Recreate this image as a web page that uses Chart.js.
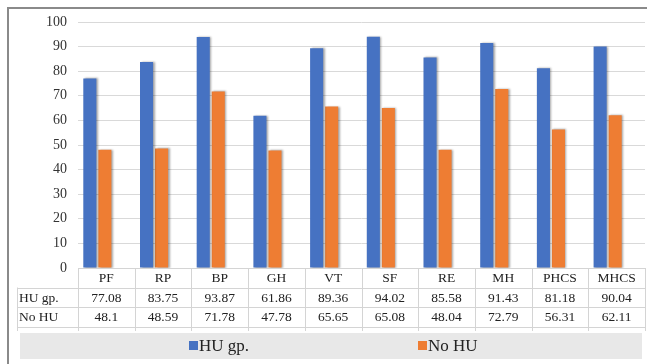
<!DOCTYPE html>
<html>
<head>
<meta charset="utf-8">
<script src="https://cdn.jsdelivr.net/npm/chart.js@4"></script>
<style>
  html, body { margin: 0; padding: 0; background: #fff; }
  #contenedor { width: 647px; height: 364px; }
</style>
</head>
<body>
<div id="contenedor"><canvas id="grafica"></canvas></div>
<script>
// Datos de la gráfica
const categorias = ["PF", "RP", "BP", "GH", "VT", "SF", "RE", "MH", "PHCS", "MHCS"];
const etiquetasSeries = ["HU gp.", "No HU"];
const valoresHU = [77.08, 83.75, 93.87, 61.86, 89.36, 94.02, 85.58, 91.43, 81.18, 90.04];
const valoresNoHU = [48.1, 48.59, 71.78, 47.78, 65.65, 65.08, 48.04, 72.79, 56.31, 62.11];
const ejeYMin = 0;
const ejeYMax = 100;
const ejeYPaso = 10;

const coloresSeries = ["#4672c2", "#ee7d33"];
const fuente = "'Liberation Serif', 'Times New Roman', serif";
const colorLineas = "#d4d4d4";

// Tabla de datos, leyenda y marco (estilo Excel)
const tablaDatos = {
  id: "tablaDatos",
  beforeDraw(chart) {
    const ctx = chart.ctx;
    ctx.save();
    ctx.fillStyle = "#e8e8e8";
    ctx.fillRect(20, 333, 622, 26);
    ctx.restore();
  },
  beforeDatasetsDraw(chart) {
    const ctx = chart.ctx;
    ctx.save();
    // las barras quedan algo a la izquierda de las columnas de la tabla
    ctx.translate(-9, 0);
    ctx.shadowColor = "rgba(0,0,0,0.35)";
    ctx.shadowBlur = 2;
    ctx.shadowOffsetX = 1.5;
  },
  afterDatasetsDraw(chart) {
    chart.ctx.restore();
  },
  afterDraw(chart) {
    const { ctx, chartArea, scales: { x } } = chart;
    const mitad = (x.getPixelForValue(1) - x.getPixelForValue(0)) / 2;
    const filas = [chartArea.bottom, chartArea.bottom + 19.5, chartArea.bottom + 39, chartArea.bottom + 58.5];
    const finTabla = chartArea.bottom + 63;
    const izq = 17;

    ctx.save();
    ctx.strokeStyle = colorLineas;
    ctx.lineWidth = 1;
    ctx.beginPath();
    ctx.moveTo(chartArea.left, filas[0] + 0.5);
    ctx.lineTo(chartArea.right, filas[0] + 0.5);
    for (let r = 1; r < filas.length; r++) {
      ctx.moveTo(izq, Math.round(filas[r]) + 0.5);
      ctx.lineTo(chartArea.right, Math.round(filas[r]) + 0.5);
    }
    // líneas verticales de la tabla
    ctx.moveTo(izq + 0.5, filas[1]);
    ctx.lineTo(izq + 0.5, finTabla);
    for (let i = 0; i <= categorias.length; i++) {
      const px = Math.round(x.getPixelForValue(0) - mitad + i * mitad * 2) + 0.5;
      ctx.moveTo(px, filas[0]);
      ctx.lineTo(px, finTabla);
    }
    ctx.stroke();

    ctx.fillStyle = "#222";
    ctx.font = "13.5px " + fuente;
    ctx.textBaseline = "middle";

    // encabezado con las categorías
    ctx.textAlign = "center";
    chart.data.labels.forEach((c, i) => {
      ctx.fillText(c, x.getPixelForValue(i), (filas[0] + filas[1]) / 2 + 1);
    });

    // valores de cada serie
    chart.data.datasets.forEach((ds, r) => {
      const yc = (filas[r + 1] + filas[r + 2]) / 2 + 1;
      ctx.textAlign = "left";
      ctx.fillText(ds.label, izq + 2, yc);
      ctx.textAlign = "center";
      ds.data.forEach((v, i) => {
        ctx.fillText(String(v), x.getPixelForValue(i), yc);
      });
    });

    // leyenda
    const posLeyenda = [189, 418];
    ctx.font = "17px " + fuente;
    ctx.textAlign = "left";
    ctx.textBaseline = "alphabetic";
    chart.data.datasets.forEach((ds, r) => {
      ctx.fillStyle = ds.backgroundColor;
      ctx.fillRect(posLeyenda[r], 341, 9, 9);
      ctx.fillStyle = "#222";
      ctx.fillText(ds.label, posLeyenda[r] + 10, 350.5);
    });

    // marco exterior
    ctx.strokeStyle = "#8a8a8a";
    ctx.lineWidth = 2;
    ctx.beginPath();
    ctx.moveTo(8, chart.height);
    ctx.lineTo(8, 8);
    ctx.lineTo(chart.width, 8);
    ctx.stroke();
    ctx.restore();
  }
};

const ctx = document.getElementById("grafica").getContext("2d");
new Chart(ctx, {
  type: "bar",
  data: {
    labels: categorias,
    datasets: [
      { label: etiquetasSeries[0], data: valoresHU, backgroundColor: coloresSeries[0] },
      { label: etiquetasSeries[1], data: valoresNoHU, backgroundColor: coloresSeries[1] }
    ]
  },
  options: {
    responsive: true,
    maintainAspectRatio: false,
    animation: false,
    layout: { padding: { left: 0, right: 2, top: 22, bottom: 33 } },
    datasets: { bar: { categoryPercentage: 0.53, barPercentage: 0.87 } },
    plugins: {
      legend: { display: false },
      tooltip: { enabled: false }
    },
    scales: {
      x: {
        grid: { display: false, drawOnChartArea: false, drawTicks: false },
        border: { display: false },
        ticks: { display: false },
        afterFit(scale) { scale.height = 63; }
      },
      y: {
        min: ejeYMin,
        max: ejeYMax,
        grid: { color: "#d9d9d9", drawTicks: false },
        border: { display: false },
        ticks: {
          stepSize: ejeYPaso,
          padding: 11,
          color: "#333",
          font: { family: fuente, size: 14 }
        },
        afterFit(scale) { scale.width = 78; }
      }
    }
  },
  plugins: [tablaDatos]
});
</script>
</body>
</html>
